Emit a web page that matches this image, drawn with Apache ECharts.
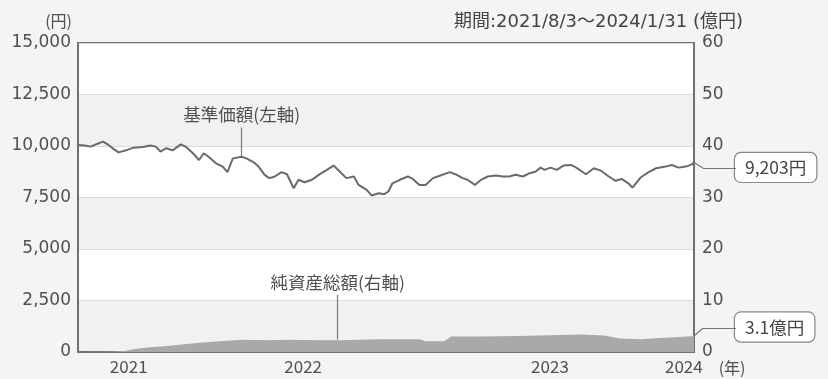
<!DOCTYPE html>
<html>
<head>
<meta charset="utf-8">
<script src="https://cdn.jsdelivr.net/npm/echarts@6/dist/echarts.min.js"></script>
<style>
html, body { margin: 0; padding: 0; background: #f4f4f4; }
#chart { width: 828px; height: 379px; }
</style>
</head>
<body>
<div id="chart"></div>
<script>
// 期間
const startDate = '2021-08-03'
const endDate = '2024-01-31'
const periodText = '期間:2021/8/3～2024/1/31 (億円)'

// 基準価額(円): 開始日からの経過日数と値
const priceDays = [0, 10, 19, 28, 37, 45, 53, 60, 71, 82, 96, 107, 115, 122, 130, 140, 152, 159, 170, 179,
  186, 193, 204, 214, 221, 229, 242, 249, 260, 267, 276, 283, 291, 301, 309, 319, 326, 335, 346, 356,
  368, 378, 387, 397, 408, 415, 427, 434, 445, 453, 459, 465, 476, 488, 495, 505, 514, 525, 536, 550,
  558, 569, 576, 587, 596, 606, 618, 628, 638, 647, 658, 668, 677, 684, 690, 699, 708, 718, 729, 737,
  751, 763, 774, 785, 795, 804, 814, 820, 832, 844, 855, 869, 878, 888, 899, 908, 911]
const priceValues = [10050, 10020, 9970, 10100, 10210, 10050, 9850, 9690, 9790, 9920, 9950, 10020, 9970, 9730, 9890, 9790, 10080, 9970, 9650, 9320,
  9650, 9480, 9160, 9000, 8730, 9400, 9480, 9400, 9210, 9000, 8600, 8440, 8520, 8730, 8630, 7950, 8360, 8240, 8360, 8600,
  8840, 9050, 8760, 8440, 8520, 8110, 7870, 7600, 7710, 7660, 7790, 8190, 8360, 8520, 8400, 8110, 8110, 8440, 8570, 8730,
  8630, 8440, 8360, 8110, 8360, 8520, 8570, 8520, 8520, 8600, 8520, 8680, 8760, 8950, 8840, 8950, 8840, 9050, 9080, 8950,
  8630, 8920, 8790, 8520, 8310, 8400, 8190, 7980, 8470, 8730, 8920, 9000, 9080, 8950, 9000, 9110, 9203]

// 純資産総額(億円)
const assetDays = [0, 47, 69, 84, 106, 128, 150, 180, 210, 244, 284, 313, 357, 387, 446, 505, 514, 542, 552, 594,
  653, 712, 742, 779, 801, 831, 860, 890, 911]
const assetValues = [0, 0.05, 0.2, 0.6, 0.9, 1.1, 1.4, 1.8, 2.1, 2.4, 2.3, 2.4, 2.3, 2.3, 2.5, 2.5, 2.1, 2.1, 3.0, 3.0,
  3.1, 3.3, 3.4, 3.2, 2.6, 2.5, 2.7, 2.9, 3.1]

// 軸の目盛り [min, max, interval]
const yenAxis = [0, 15000, 2500]
const okuAxis = [0, 60, 10]

// 注記の引き出し線 [経過日数, 下端, 上端]
const priceNote = [242, 9500, 10900]
const assetNote = [384, 2.4, 11.1]

const days = []
for (let d = new Date(startDate + 'T00:00:00Z'); d <= new Date(endDate + 'T00:00:00Z'); d.setUTCDate(d.getUTCDate() + 1)) {
  days.push(d.toISOString().slice(0, 10))
}
// 年ラベルは各年の区間の中央に置く
const firstIdx = {}
const lastIdx = {}
days.forEach((d, i) => {
  const y = d.slice(0, 4)
  if (!(y in firstIdx)) firstIdx[y] = i
  lastIdx[y] = i
})
const yearLabelIdx = new Set(Object.keys(firstIdx).map(y => Math.round((firstIdx[y] + lastIdx[y]) / 2)))

const cjk = 'Noto Sans CJK JP'
const wide = "'DejaVu Sans', 'Noto Sans CJK JP'"
const textColor = '#505050'
const axisColor = '#707070'

const calloutBox = {
  show: true,
  color: '#444',
  fontFamily: cjk,
  fontSize: 17.5,
  lineHeight: 20,
  backgroundColor: '#fff',
  borderColor: '#888',
  borderWidth: 1.2,
  borderRadius: 6,
  padding: [5, 10, 4, 10]
}
const noteLabel = {
  show: true,
  position: 'end',
  color: textColor,
  fontFamily: cjk,
  fontSize: 17.5,
  distance: 4
}
const connector = { color: '#777', width: 1.2, type: 'solid' }

const chart = echarts.init(document.getElementById('chart'))
chart.setOption({
  animation: false,
  backgroundColor: '#f4f4f4',
  textStyle: { fontFamily: cjk },
  title: {
    text: periodText,
    right: 80,
    top: 8,
    textStyle: { fontFamily: wide, fontSize: 18, fontWeight: 'normal', color: '#444' }
  },
  grid: {
    left: 78, right: 134, top: 43, bottom: 27,
    show: true, borderColor: axisColor, borderWidth: 2, backgroundColor: 'transparent'
  },
  xAxis: {
    type: 'category',
    data: days,
    boundaryGap: false,
    name: '(年)',
    nameLocation: 'end',
    nameGap: 24,
    nameTextStyle: { color: textColor, fontSize: 16, verticalAlign: 'top', padding: [8, 0, 0, 0] },
    axisLine: { lineStyle: { color: axisColor, width: 2 } },
    axisTick: {
      inside: true,
      length: 6,
      interval: (i, v) => v.slice(5) === '01-01',
      lineStyle: { color: '#555', width: 1.5 }
    },
    axisLabel: {
      interval: (i) => yearLabelIdx.has(i),
      formatter: v => v.slice(0, 4),
      color: textColor,
      fontSize: 17,
      margin: 6
    },
    splitLine: { show: false }
  },
  yAxis: [
    {
      type: 'value',
      min: yenAxis[0], max: yenAxis[1], interval: yenAxis[2],
      name: '(円)',
      nameLocation: 'end',
      nameGap: 14,
      nameTextStyle: { color: textColor, fontSize: 16, align: 'right', padding: [0, 6, 0, 0] },
      axisLine: { show: true, lineStyle: { color: axisColor, width: 2 } },
      axisTick: { show: false },
      axisLabel: {
        color: textColor, fontFamily: wide, fontSize: 17, margin: 7,
        formatter: v => v.toLocaleString('en-US')
      },
      splitLine: { lineStyle: { color: '#dcdcdc', width: 1 } },
      splitArea: { show: true, areaStyle: { color: ['#f1f1f1', '#ffffff'] } }
    },
    {
      type: 'value',
      min: okuAxis[0], max: okuAxis[1], interval: okuAxis[2],
      position: 'right',
      axisLine: { show: true, lineStyle: { color: axisColor, width: 2 } },
      axisTick: { show: false },
      axisLabel: { color: textColor, fontFamily: wide, fontSize: 17, margin: 8 },
      splitLine: { show: false }
    }
  ],
  series: [
    {
      name: '純資産総額',
      type: 'line',
      yAxisIndex: 1,
      data: assetDays.map((d, i) => [d, assetValues[i]]),
      symbol: 'none',
      lineStyle: { width: 0 },
      areaStyle: { color: '#a9a9a9', opacity: 1 },
      z: 2,
      endLabel: Object.assign({}, calloutBox, {
        formatter: p => p.value[1].toFixed(1) + '億円',
        offset: [33, -9]
      }),
      markLine: {
        silent: true,
        symbol: ['none', 'none'],
        label: { show: false },
        lineStyle: connector,
        data: [
          [{ coord: [assetNote[0], assetNote[1]] }, { coord: [assetNote[0], assetNote[2]], label: Object.assign({}, noteLabel, { formatter: '純資産総額(右軸)' }) }],
          [{ coord: [assetDays[assetDays.length - 1], assetValues[assetValues.length - 1]] }, { x: 703, y: 328 }],
          [{ x: 703, y: 328 }, { x: 736, y: 328 }]
        ]
      }
    },
    {
      name: '基準価額',
      type: 'line',
      yAxisIndex: 0,
      data: priceDays.map((d, i) => [d, priceValues[i]]),
      symbol: 'none',
      lineStyle: { color: '#6a6a6a', width: 2 },
      z: 3,
      endLabel: Object.assign({}, calloutBox, {
        formatter: p => p.value[1].toLocaleString('en-US') + '円',
        offset: [33, 5]
      }),
      markLine: {
        silent: true,
        symbol: ['none', 'none'],
        label: { show: false },
        lineStyle: connector,
        data: [
          [{ coord: [priceNote[0], priceNote[1]] }, { coord: [priceNote[0], priceNote[2]], label: Object.assign({}, noteLabel, { formatter: '基準価額(左軸)' }) }],
          [{ coord: [priceDays[priceDays.length - 1], priceValues[priceValues.length - 1]] }, { x: 703, y: 168 }],
          [{ x: 703, y: 168 }, { x: 736, y: 168 }]
        ]
      }
    }
  ]
})
</script>
</body>
</html>
